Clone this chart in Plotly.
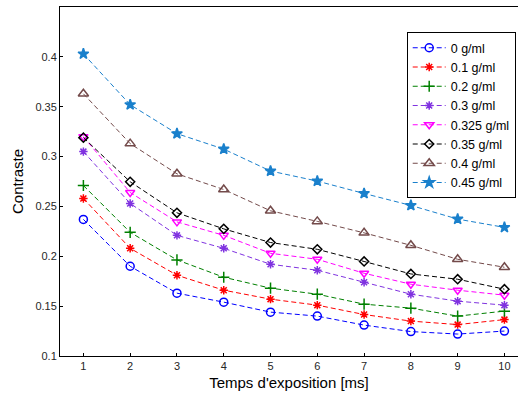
import plotly.graph_objects as go

x_vals = [1, 2, 3, 4, 5, 6, 7, 8, 9, 10]
labels = ["0 g/ml", "0.1 g/ml", "0.2 g/ml", "0.3 g/ml", "0.325 g/ml", "0.35 g/ml", "0.4 g/ml", "0.45 g/ml"]
s0 = [0.237, 0.190, 0.163, 0.154, 0.144, 0.140, 0.131, 0.1245, 0.122, 0.125]
s01 = [0.258, 0.208, 0.181, 0.166, 0.157, 0.151, 0.1416, 0.135, 0.1315, 0.1365]
s02 = [0.271, 0.224, 0.1964, 0.179, 0.168, 0.162, 0.152, 0.148, 0.140, 0.145]
s03 = [0.305, 0.253, 0.221, 0.208, 0.192, 0.186, 0.174, 0.162, 0.155, 0.151]
s0325 = [0.320, 0.264, 0.2345, 0.221, 0.203, 0.197, 0.183, 0.172, 0.166, 0.161]
s035 = [0.319, 0.2747, 0.2436, 0.2275, 0.2138, 0.207, 0.1948, 0.1823, 0.177, 0.167]
s04 = [0.363, 0.313, 0.2827, 0.267, 0.2456, 0.235, 0.2235, 0.211, 0.197, 0.189]
s045 = [0.403, 0.352, 0.323, 0.3075, 0.2855, 0.2754, 0.263, 0.251, 0.2373, 0.229]

series = [s0, s01, s02, s03, s0325, s035, s04, s045]
colors = ["#0000ff", "#ff0000", "#008000", "#8033e0", "#ff00ff", "#000000", "#734a4a", "#1a80cc"]
symbols = ["circle-open", "asterisk-open", "cross-thin-open", "asterisk-open",
           "triangle-down-open", "diamond-open", "triangle-up-open", "star"]
sizes = [8, 7, 8, 7, 8, 7, 9, 8]

fig = go.Figure()
for ys, lab, c, sym, sz in zip(series, labels, colors, symbols, sizes):
    fig.add_trace(go.Scatter(
        x=x_vals, y=ys, name=lab, mode="lines+markers",
        line=dict(color=c, width=1, dash="5px,3px"),
        marker=dict(symbol=sym, size=sz, color=c, line=dict(color=c, width=1.5)),
    ))

fig.update_layout(
    width=518, height=393,
    margin=dict(l=60, r=0, t=7, b=37),
    paper_bgcolor="white", plot_bgcolor="white",
    font=dict(family="Liberation Sans, Arial", size=11, color="#262626"),
    showlegend=True,
    legend=dict(x=0.757, y=0.928, xanchor="left", yanchor="top",
                bordercolor="black", borderwidth=1, bgcolor="white",
                font=dict(size=12.5, color="#000000"), tracegroupgap=0,
                itemwidth=33),
)
fig.update_xaxes(range=[0.5, 10.29], tickvals=x_vals, ticks="inside", ticklen=3,
                 showline=True, linecolor="black", linewidth=1, mirror=True,
                 showgrid=False, zeroline=False, tickcolor="black",
                 title=dict(text="Temps d'exposition [ms]", font=dict(size=15, color="#000000"), standoff=6))
fig.update_yaxes(range=[0.1, 0.45], tickvals=[0.1, 0.15, 0.2, 0.25, 0.3, 0.35, 0.4],
                 ticktext=["0.1", "0.15", "0.2", "0.25", "0.3", "0.35", "0.4"],
                 ticks="inside", ticklen=3, showline=True, linecolor="black", linewidth=1,
                 showgrid=False, zeroline=False, tickcolor="black",
                 title=dict(text="Contraste", font=dict(size=15, color="#000000"), standoff=8))

fig.write_html("out.html", config={"displayModeBar": False},
               post_script="document.body.style.margin='0';")
